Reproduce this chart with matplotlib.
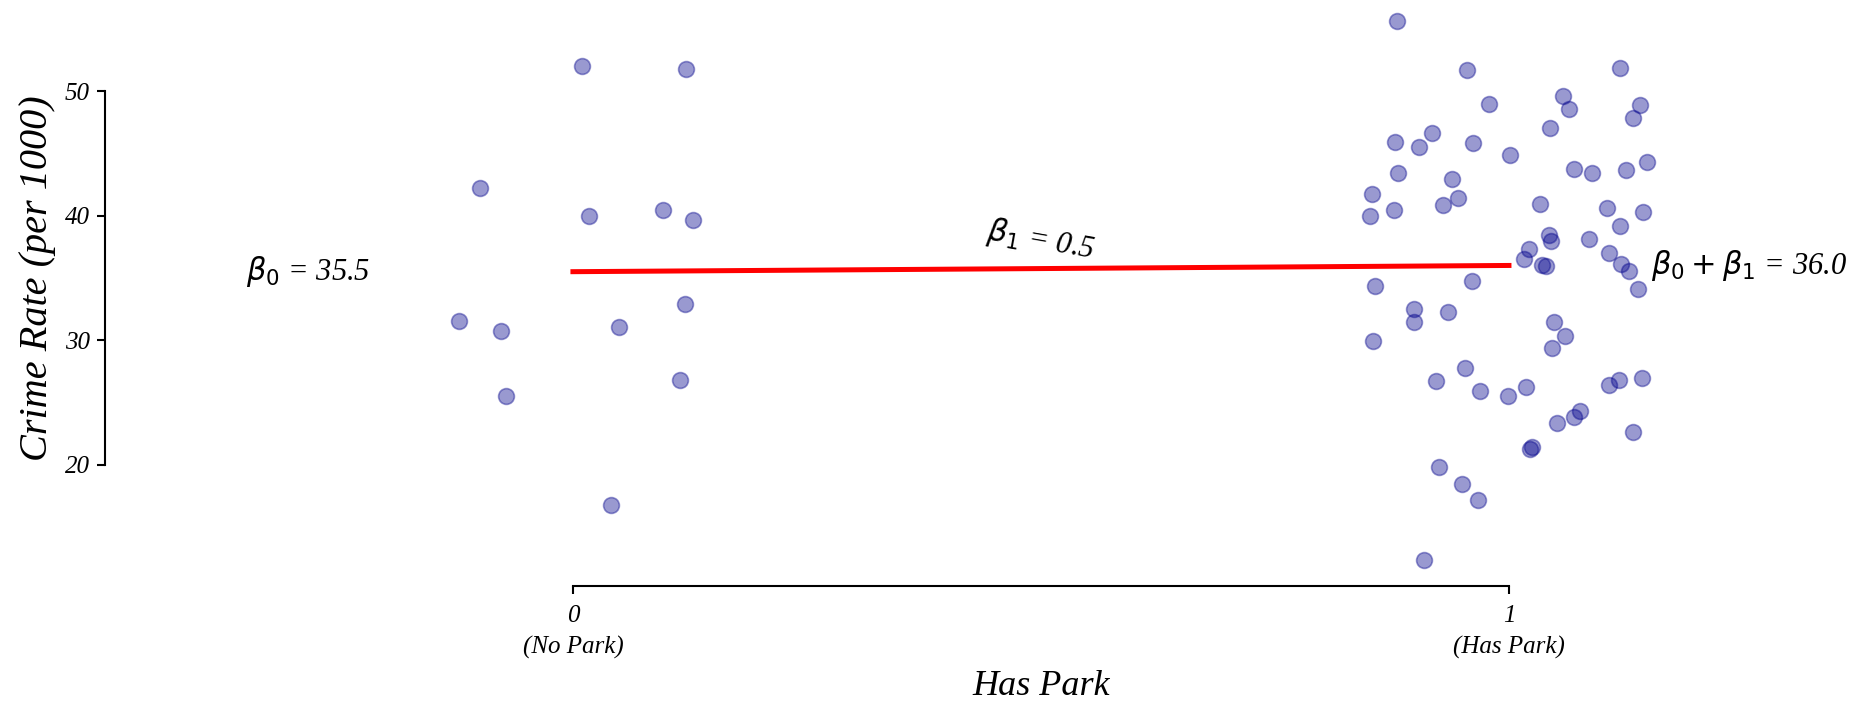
import numpy as np
import matplotlib
matplotlib.use("Agg")
import matplotlib.pyplot as plt

# ── data ────────────────────────────────────────────────────────────────────
# no-park group (jittered x around 0)
x_no_park = [0.010, 0.121, -0.099, 0.017, 0.096, 0.128, 0.120, -0.122, -0.077,
             0.049, -0.072, 0.114, 0.041]
y_no_park = [52.03, 51.80, 42.19, 40.00, 40.47, 39.67, 32.93, 31.56, 30.76,
             31.08, 25.55, 26.83, 16.80]

# park group (jittered x around 1)
x_park = [0.880, 0.955, 1.119, 0.979, 1.058, 1.064, 1.140, 1.132, 1.044, 0.878,
          0.904, 0.918, 0.962, 1.001, 0.881, 0.939, 0.946, 0.930, 0.854, 0.852,
          0.877, 1.069, 1.089, 1.125, 1.148, 1.033, 1.105, 1.143, 1.119, 1.043,
          1.045, 1.085, 1.021, 1.016, 1.035, 1.040, 1.107, 1.120, 1.128, 0.857,
          0.961, 1.138, 0.899, 0.899, 0.935, 0.855, 1.048, 1.060, 1.046, 0.953,
          0.922, 0.969, 0.999, 1.018, 1.107, 1.118, 1.142, 1.051, 1.069, 1.076,
          1.133, 1.022, 1.025, 0.925, 0.950, 0.967, 0.909]
y_park = [55.62, 51.66, 51.82, 48.98, 49.57, 48.53, 48.85, 47.81, 47.00, 45.93,
          45.48, 46.60, 45.80, 44.89, 43.39, 42.96, 41.44, 40.88, 41.76, 39.99,
          40.47, 43.76, 43.39, 43.68, 44.33, 40.90, 40.63, 40.26, 39.19, 38.44,
          37.98, 38.10, 37.34, 36.54, 36.03, 35.98, 36.97, 36.12, 35.58, 34.33,
          34.78, 34.13, 32.48, 31.46, 32.29, 29.96, 31.48, 30.36, 29.37, 27.79,
          26.75, 25.95, 25.52, 26.27, 26.40, 26.83, 26.99, 23.35, 23.83, 24.34,
          22.63, 21.30, 21.40, 19.82, 18.48, 17.17, 12.36]

beta0 = 35.5
beta1 = 0.5

y_ticks = [20, 30, 40, 50]
x_ticks = [0, 1]
x_ticklabels = ["0\n(No Park)", "1\n(Has Park)"]

# ── figure ──────────────────────────────────────────────────────────────────
plt.rcParams["mathtext.fontset"] = "dejavusans"
serif = "Liberation Serif"

fig = plt.figure(figsize=(18.57, 7.02), dpi=100)
ax = fig.add_axes([0.0565, 0.1652, 0.9325, 0.8347])
xlim = (-0.5, 1.35)
ylim = (10.27, 57.30)

ax.scatter(x_no_park, y_no_park, s=130, color="darkblue", alpha=0.4,
           linewidths=1.2, clip_on=False, zorder=2)
ax.scatter(x_park, y_park, s=130, color="darkblue", alpha=0.4,
           linewidths=1.2, clip_on=False, zorder=2)

# fitted line between the two group means
ax.plot([0, 1], [beta0, beta0 + beta1], color="red", lw=3.6, zorder=3)

ax.text(-0.283, beta0, r"$\beta_0$ = " + f"{beta0:.1f}", fontsize=22,
        family=serif, style="italic", ha="center", va="center")
ax.text(0.5, 38.0, r"$\beta_1$ = " + f"{beta1:.1f}", fontsize=22,
        family=serif, style="italic", ha="center", va="center", rotation=-10)
ax.text(1.152, beta0 + beta1, r"$\beta_0 + \beta_1$ = " + f"{beta0 + beta1:.1f}",
        fontsize=22, family=serif, style="italic", ha="left", va="center")

ax.set_xlim(*xlim)
ax.set_ylim(*ylim)
ax.set_yticks(y_ticks)
ax.set_xticks(x_ticks)
ax.set_xticklabels(x_ticklabels)

for side in ["top", "right"]:
    ax.spines[side].set_visible(False)
ax.spines["left"].set_bounds(20, 50)
ax.spines["bottom"].set_bounds(0, 1)
for side in ["left", "bottom"]:
    ax.spines[side].set_linewidth(1.5)

ax.tick_params(length=6, width=1.5, pad=5)
ax.tick_params(axis="x", pad=8)
for lab in ax.get_xticklabels() + ax.get_yticklabels():
    lab.set_fontfamily(serif)
    lab.set_fontstyle("italic")
    lab.set_fontsize(18)
for lab in ax.get_xticklabels():
    lab.set_linespacing(1.45)

ax.set_xlabel("Has Park", fontsize=26, family=serif, style="italic", labelpad=8)
ax.set_ylabel("Crime Rate (per 1000)", fontsize=29, family=serif,
              style="italic", labelpad=6)
# centre the axis labels on the trimmed spines
ax.xaxis.label.set_x((0.5 - xlim[0]) / (xlim[1] - xlim[0]))
ax.yaxis.label.set_y((35 - ylim[0]) / (ylim[1] - ylim[0]))

fig.savefig("out.png", dpi=100)
